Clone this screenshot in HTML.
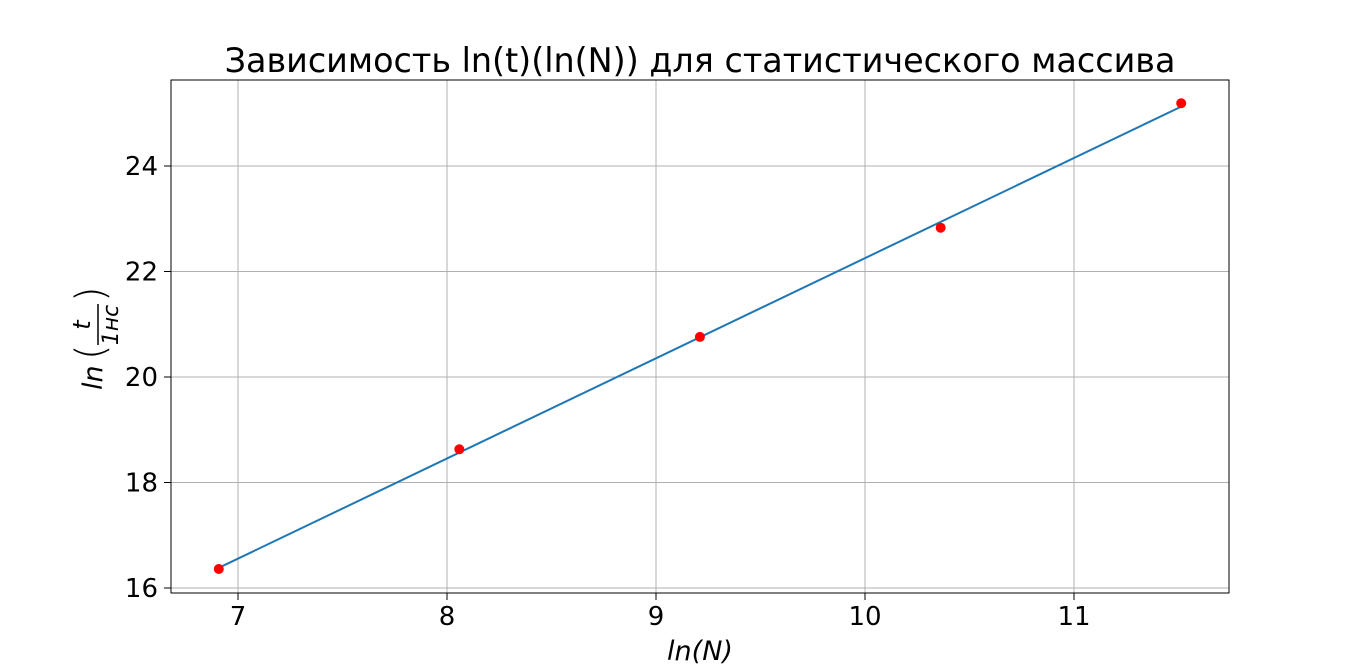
<!DOCTYPE html>
<html><head><meta charset="utf-8"><style>
html,body{margin:0;padding:0;background:#fff;}
svg{display:block;font-family:"DejaVu Sans","Liberation Sans",sans-serif;}
</style></head><body>
<svg id="chart" width="1366" height="666">
<text x="700" y="72" text-anchor="middle" font-size="33.4" fill="#000">Зависимость ln(t)(ln(N)) для статистического массива</text>
<g id="grid"></g>
<g id="marks"></g>
<rect x="171" y="80" width="1058" height="513" fill="none" stroke="#000" stroke-width="1"/>
<g id="ticks"></g>
<text x="700" y="660" text-anchor="middle" font-size="27" font-style="italic">ln(N)</text>
<g transform="translate(102,337) rotate(-90)">
<text x="-53" y="0" font-size="27" font-style="italic">ln</text>
<text x="-23" y="2" font-size="40" font-weight="100">(</text>
<text x="12" y="-12" font-size="24" font-style="italic" text-anchor="middle">t</text>
<line x1="-8" y1="-4" x2="33" y2="-4" stroke="#000" stroke-width="1.5"/>
<text x="12" y="16" font-size="22" font-style="italic" text-anchor="middle">1нс</text>
<text x="35" y="2" font-size="40" font-weight="100">)</text>
</g>
</svg>
<script>
const xTicks=[7,8,9,10,11];
const yTicks=[16,18,20,22,24];
const xVals=[6.908,8.059,9.210,10.362,11.513];
const yVals=[16.36,18.63,20.76,22.83,25.19];
const sx=v=>238+(v-7)*209;
const sy=v=>588-(v-16)*52.75;
const NS="http://www.w3.org/2000/svg";
function mk(tag,attrs,parent){const e=document.createElementNS(NS,tag);for(const k in attrs)e.setAttribute(k,attrs[k]);parent.appendChild(e);return e;}
const grid=document.getElementById('grid'),ticks=document.getElementById('ticks'),marks=document.getElementById('marks');
xTicks.forEach(t=>{
 const g=mk('line',{x1:sx(t),x2:sx(t),y1:80,y2:593,stroke:'#b0b0b0','stroke-width':1},grid);
 
 
 mk('line',{x1:sx(t),x2:sx(t),y1:593,y2:600,stroke:'#000'},ticks);
 const l=mk('text',{x:sx(t),y:625,'text-anchor':'middle','font-size':26},ticks);l.textContent=t;
 
 
});
yTicks.forEach(t=>{
 const g=mk('line',{x1:171,x2:1229,y1:sy(t),y2:sy(t),stroke:'#b0b0b0','stroke-width':1},grid);
 
 
 mk('line',{x1:164,x2:171,y1:sy(t),y2:sy(t),stroke:'#000'},ticks);
 const l=mk('text',{x:158,y:sy(t)+9,'text-anchor':'end','font-size':26},ticks);l.textContent=t;
 
 
});
const n=xVals.length,mx=xVals.reduce((a,b)=>a+b)/n,my=yVals.reduce((a,b)=>a+b)/n;
let num=0,den=0;for(let i=0;i<n;i++){num+=(xVals[i]-mx)*(yVals[i]-my);den+=(xVals[i]-mx)**2;}
const k=num/den,b=my-k*mx;
const x0=xVals[0],x1=xVals[n-1];
const fl=mk('line',{x1:sx(x0),y1:sy(k*x0+b),x2:sx(x1),y2:sy(k*x1+b),stroke:'#1f77b4','stroke-width':2},marks);


xVals.forEach((x,i)=>{
 const c=mk('circle',{cx:sx(x),cy:sy(yVals[i]),r:5,fill:'#ff0000'},marks);
 
 
});
</script>
</body></html>
